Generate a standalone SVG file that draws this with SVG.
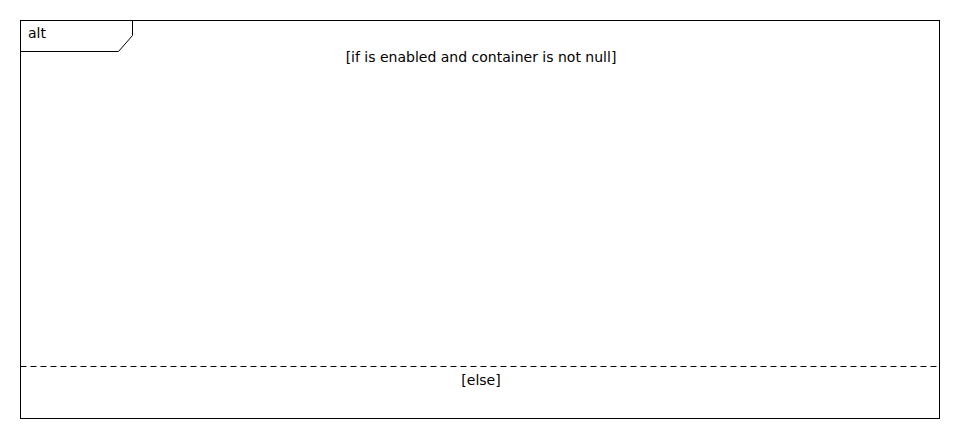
<svg xmlns="http://www.w3.org/2000/svg" width="960" height="440" viewBox="0 0 960 440">
<style>
.frame{fill:none;stroke:#000;stroke-width:1}
.sep{stroke:#000;stroke-width:1;stroke-dasharray:6,4}
text{font-family:"DejaVu Sans",sans-serif;font-size:14px;fill:#000}
</style>
<rect width="960" height="440" fill="#fff"/>
<g id="alt-fragment">
<rect class="frame" x="20.5" y="20.5" width="919" height="398"/>
<path class="frame" d="M132.5,20.5 V35.5 L118.5,51.5 H20.5"/>
<text x="28" y="38">alt</text>
<text x="481" y="62" text-anchor="middle">[if is enabled and container is not null]</text>
</g>
<g id="connectors">
<line class="sep" x1="20.5" y1="366.5" x2="939.5" y2="366.5"/>
</g>
<g id="else-operand">
<text x="481" y="385" text-anchor="middle">[else]</text>
</g>
</svg>
